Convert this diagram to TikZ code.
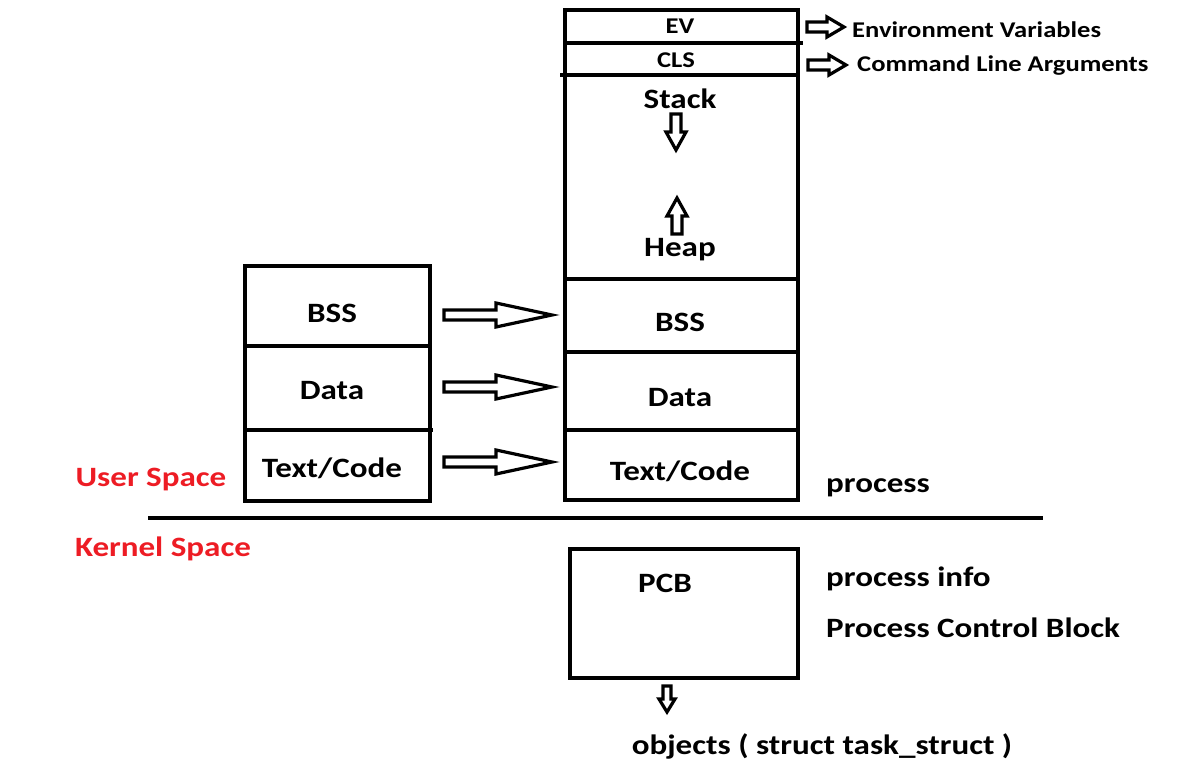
\documentclass[tikz,border=0pt]{standalone}
\usepackage{fontspec}
\setmainfont{Carlito}[FakeStretch=1.18]
\usetikzlibrary{positioning}
\newcommand\hollowarr[6]{% tail x, tail y, rotation, length, head length, shaft half
  \begin{scope}[shift={(#1,#2)},rotate=#3]
    \draw[harrow] (0,-#6) -- ({#4-#5},-#6) -- ({#4-#5},-\headhalf) -- (#4,0) -- ({#4-#5},\headhalf) -- ({#4-#5},#6) -- (0,#6) -- cycle;
  \end{scope}}
\begin{document}
\begin{tikzpicture}[x=1pt,y=-1pt,
  lab/.style={font=\bfseries\fontsize{28}{30}\selectfont,inner sep=0},
  small/.style={font=\bfseries\fontsize{22.5}{25}\selectfont,inner sep=0},
  redlab/.style={lab,text={rgb,255:red,237;green,28;blue,36}},
  wall/.style={line width=4pt},
  harrow/.style={draw,line width=3.2pt,fill=white,line join=miter}]
\useasboundingbox (0,0) rectangle (1200,783);
% right column
\draw[wall] (565,10) rectangle (798,500);
\draw[wall] (565,43) -- (803,43);
\draw[wall] (560,75) -- (798,75);
\draw[wall] (565,279) -- (800,279);
\draw[wall] (563,352) -- (800,352);
\draw[wall] (565,430) -- (798,430);
\node[small] (ev) at (680,26) {EV};
\node[small] (cls) at (676,60) {CLS};
\node[lab] (stack) at (680,99) {Stack};
\node[lab] (heap) at (680,250) {Heap};
\node[lab] (bss2) at (680,322) {BSS};
\node[lab] (data2) at (680,398) {Data};
\node[lab] (text2) at (680,471) {Text/Code};
% left column
\draw[wall] (245,266) rectangle (430,501);
\draw[wall] (245,346) -- (430,346);
\draw[wall] (245,430) -- (433,430);
\node[lab] (bss1) at (332,313) {BSS};
\node[lab] (data1) at (332,391) {Data};
\node[lab] (text1) at (332,468) {Text/Code};
% labels
\node[small,anchor=west] (envv) at (852,30) {Environment Variables};
\node[small,anchor=west] (cla) at (857,66) {Command Line Arguments};
\node[redlab] (us) at (151,480) {User Space};
\node[redlab] (ks) at (163,549) {Kernel Space};
\node[lab,anchor=west] (proc) at (826,488) {process};
\draw[wall] (148,518) -- (1043,518);
% PCB
\draw[wall] (570,549) rectangle (798,678);
\node[lab] (pcb) at (665,583) {PCB};
\node[lab,anchor=west] (pinfo) at (826,579) {process info};
\node[lab,anchor=west] (pcbl) at (826,628) {Process Control Block};
\node[lab] (obj) at (822,746) {objects ( struct task\_struct )};
% arrows
\def\headhalf{12}
\hollowarr{444}{315}{0}{108}{56}{5}
\hollowarr{444}{387}{0}{108}{56}{5}
\hollowarr{444}{462}{0}{108}{56}{5}
\def\headhalf{10}
\hollowarr{807}{27}{0}{37}{17}{5}
\hollowarr{808}{65}{0}{38}{17}{5}
\hollowarr{676}{114}{-90}{36}{18}{5}
\hollowarr{677}{234}{90}{36}{18}{5}
\def\headhalf{8}
\hollowarr{667}{686}{-90}{26}{13}{4}
\end{tikzpicture}
\end{document}
